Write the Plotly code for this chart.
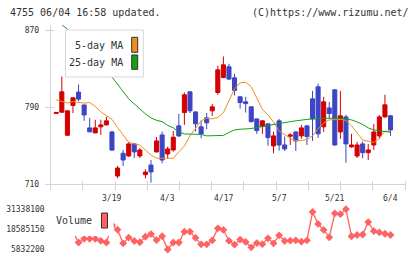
import numpy as np
import plotly.graph_objects as go

W, H = 420, 259

# ---------------- data ----------------
idx = list(range(61))
date_ticks = [10, 20, 30, 40, 50, 60]
date_text = ["3/19", "4/3", "4/17", "5/7", "5/21", "6/4"]

opens = [783.5, 784.8, 760.9, 791.7, 805.6, 792.3, 768.5, 763.3, 769.6, 771.6,
         764.3, 718.6, 742.2, 739.4, 751.9, 739.4, 720.0, 730.0, 743.6, 761.2,
         741.5, 745.6, 770.6, 784.4, 805.9, 785.1, 769.6, 778.9, 786.2, 805.2,
         820.8, 831.9, 820.4, 800.7, 795.5, 790.3, 777.8, 769.8, 772.7, 749.8,
         775.8, 750.8, 759.9, 764.3, 760.2, 770.6, 798.6, 811.1, 769.6, 789.2,
         808.0, 764.3, 779.9, 748.8, 739.4, 751.9, 742.8, 750.8, 760.2, 779.9,
         781.0]
highs = [784.5, 821.8, 786.5, 800.0, 813.5, 792.5, 778.9, 776.9, 776.9, 779.9,
         765.4, 729.0, 745.6, 754.0, 752.9, 747.7, 725.6, 735.2, 759.1, 764.7,
         749.0, 765.4, 783.0, 805.2, 806.5, 785.5, 776.1, 784.0, 793.4, 832.9,
         842.6, 835.0, 824.6, 801.5, 800.7, 790.8, 778.2, 776.3, 773.2, 764.7,
         777.8, 759.5, 763.0, 764.8, 771.6, 771.0, 806.9, 814.2, 800.7, 795.5,
         808.5, 806.9, 782.0, 762.3, 753.9, 754.3, 751.9, 772.7, 782.0, 802.8,
         782.0]
lows = [783.5, 784.0, 760.0, 783.8, 796.2, 775.8, 764.0, 763.0, 761.2, 771.0,
        744.5, 716.2, 729.0, 738.4, 737.3, 737.3, 716.2, 711.7, 743.0, 731.8,
        737.0, 743.9, 759.0, 771.6, 783.8, 764.7, 757.8, 767.1, 781.0, 802.8,
        820.0, 818.0, 802.1, 788.5, 784.4, 774.0, 762.3, 762.3, 750.1, 742.2,
        744.9, 744.6, 750.8, 744.6, 757.1, 750.8, 755.0, 758.1, 764.3, 777.8,
        749.8, 757.1, 732.4, 748.0, 737.3, 737.0, 735.2, 745.6, 757.1, 779.0,
        760.2]
closes = [784.5, 805.9, 786.2, 799.7, 798.3, 781.9, 764.4, 768.5, 771.6, 775.8,
          745.5, 726.9, 735.2, 751.9, 743.6, 745.6, 722.7, 722.8, 755.0, 735.2,
          746.7, 758.8, 760.2, 802.8, 786.2, 772.7, 762.3, 773.7, 790.3, 828.7,
          833.9, 819.1, 807.3, 794.8, 793.7, 775.0, 765.7, 775.8, 758.4, 760.2,
          750.8, 746.7, 761.2, 755.0, 768.5, 759.5, 777.8, 762.3, 795.5, 783.4,
          750.8, 781.0, 751.9, 750.8, 750.8, 742.8, 745.6, 764.3, 779.9, 792.4,
          766.4]

ma5 = [797.6, 795.5, 794.2, 795.8, 795.0, 794.2, 794.8, 790.8, 785.1, 781.0,
       777.3, 769.0, 761.2, 753.4, 751.9, 750.8, 745.6, 740.4, 737.0, 737.0,
       737.0, 737.0, 743.6, 749.8, 760.2, 768.5, 775.8, 778.4, 777.8, 779.4,
       784.1, 796.5, 809.0, 815.2, 815.8, 811.1, 800.2, 787.7, 782.0, 774.7,
       765.3, 761.2, 757.8, 755.3, 755.3, 756.5, 760.2, 767.5, 773.7, 776.8,
       777.1, 777.3, 776.3, 770.6, 763.3, 756.0, 754.5, 753.4, 757.6, 765.3,
       764.7]
ma25 = [882.0, 875.5, 871.0, 865.0, 858.0, 851.0, 845.0, 838.0, 832.0, 826.0,
        821.0, 813.8, 805.9, 798.6, 793.4, 788.2, 783.0, 778.9, 776.3, 775.0,
        771.1, 768.5, 764.3, 762.2, 762.2, 762.2, 761.7, 760.2, 760.2, 760.2,
        760.7, 763.8, 766.4, 767.1, 767.5, 767.8, 769.0, 770.1, 771.1, 771.8,
        772.7, 773.7, 775.0, 775.8, 776.8, 777.3, 777.8, 778.4, 778.6, 778.6,
        778.6, 778.4, 777.8, 776.8, 774.7, 772.1, 768.5, 766.4, 765.4, 764.9,
        764.0]

volume = [18000000, 19000000, 18500000, 17000000, 10250000, 12600000, 12600000,
          12600000, 11300000, 10250000, 21300000, 18350000, 9750000, 13400000,
          11200000, 10400000, 13900000, 15600000, 11800000, 14200000, 5832200,
          10250000, 10250000, 17100000, 17100000, 13200000, 9100000, 9100000,
          11600000, 19200000, 18200000, 11300000, 8900000, 12100000, 10600000,
          7200000, 9900000, 9200000, 12900000, 9750000, 14800000, 11200000,
          11400000, 11600000, 10800000, 11600000, 29600000, 22000000, 18200000,
          13500000, 28700000, 28200000, 31338100, 14200000, 15000000, 15300000,
          23200000, 17500000, 16600000, 15800000, 15000000]

price_ticks = [710, 790, 870]
vol_ticks = [5832200, 18585150, 31338100]

# ---------------- styling ----------------
MONO = "DejaVu Sans Mono"
TXT = "#333333"
AX = "#d4d4d4"
RED = "#d40000"
BLUE = "#3c46c4"
ORANGE = "#f0901a"
GREEN = "#14a014"
VOLC = "#ff6262"

XR = [-1.0, 62.6]
XDOM = [50.7 / W, 405 / W]
YR = [710, 875.2]


def fx(px):
    return px / W


def fy(py):
    return 1 - py / H


YDOM = [fy(184.3), fy(25)]

fig = go.Figure()

fig.add_trace(go.Candlestick(
    x=idx, open=opens, high=highs, low=lows, close=closes,
    increasing=dict(line=dict(color=RED, width=1), fillcolor=RED),
    decreasing=dict(line=dict(color=BLUE, width=1), fillcolor=BLUE),
    whiskerwidth=0, showlegend=False, xaxis="x", yaxis="y"))

# 25-day MA drawn on the overlay axes that carry the crossing tick marks
fig.add_trace(go.Scatter(x=idx, y=ma25, mode="lines",
                         line=dict(color=GREEN, width=1), showlegend=False,
                         xaxis="x3", yaxis="y3"))
fig.add_trace(go.Scatter(x=idx, y=ma5, mode="lines",
                         line=dict(color=ORANGE, width=1), showlegend=False,
                         xaxis="x", yaxis="y"))

fig.add_trace(go.Scatter(x=idx, y=volume, mode="lines+markers",
                         line=dict(color=VOLC, width=1.3),
                         marker=dict(symbol="diamond", size=6, color=VOLC),
                         showlegend=False, xaxis="x2", yaxis="y2"))

tick_grid = list(np.linspace(XR[0], XR[1], 12))

layout = dict(
    width=W, height=H,
    margin=dict(l=0, r=0, t=0, b=0, pad=0, autoexpand=False),
    paper_bgcolor="white", plot_bgcolor="white",
    showlegend=False,
    boxgap=0.27, boxgroupgap=0,
    font=dict(family=MONO, size=8, color=TXT),
    xaxis=dict(domain=XDOM, range=XR, anchor="y", showgrid=False, zeroline=False,
               showline=True, linecolor=AX, linewidth=1, ticks="",
               showticklabels=False, automargin=False,
               rangeslider=dict(visible=False)),
    xaxis3=dict(domain=XDOM, range=XR, anchor="free", position=fy(180),
                overlaying="x", showgrid=False, zeroline=False, showline=False,
                ticks="outside", ticklen=9, tickcolor=AX, tickwidth=1,
                tickvals=tick_grid, showticklabels=False, automargin=False),
    xaxis2=dict(domain=XDOM, range=XR, anchor="y2", visible=False,
                automargin=False),
    yaxis=dict(domain=YDOM, range=YR, anchor="x",
               showgrid=False, zeroline=False, showline=True, linecolor=AX,
               linewidth=1, ticks="", tickvals=price_ticks,
               tickfont=dict(family=MONO, size=8, color=TXT),
               ticklabelstandoff=9, automargin=False),
    yaxis3=dict(domain=YDOM, range=YR, anchor="free", position=fx(54),
                overlaying="y", showgrid=False, zeroline=False, showline=False,
                ticks="outside", ticklen=9, tickcolor=AX, tickwidth=1,
                tickvals=price_ticks, showticklabels=False, automargin=False),
    yaxis2=dict(domain=[0, fy(199)], range=[-190000, 37780000], anchor="x2",
                showgrid=False, zeroline=False, showline=False, ticks="",
                tickvals=vol_ticks, ticktext=[str(v) for v in vol_ticks],
                tickfont=dict(family=MONO, size=8, color=TXT),
                ticklabelstandoff=5, automargin=False),
)
fig.update_layout(**layout)

shapes = [
    # main legend box
    dict(type="rect", xref="paper", yref="paper", x0=fx(65.5), x1=fx(143.3),
         y0=fy(77), y1=fy(30), fillcolor="white",
         line=dict(color="#d8d8d8", width=1), layer="above"),
    dict(type="rect", xref="paper", yref="paper", x0=fx(131.7), x1=fx(137.7),
         y0=fy(52.3), y1=fy(37.3), fillcolor=ORANGE,
         line=dict(color="#333333", width=1), layer="above"),
    dict(type="rect", xref="paper", yref="paper", x0=fx(131.7), x1=fx(137.7),
         y0=fy(69.3), y1=fy(55), fillcolor=GREEN,
         line=dict(color="#333333", width=1), layer="above"),
    # volume legend box (borderless)
    dict(type="rect", xref="paper", yref="paper", x0=fx(50), x1=fx(113.5),
         y0=fy(236), y1=fy(204), fillcolor="white",
         line=dict(width=0), layer="above"),
    dict(type="rect", xref="paper", yref="paper", x0=fx(101.5), x1=fx(107.5),
         y0=fy(228), y1=fy(213), fillcolor=VOLC,
         line=dict(color="#333333", width=1), layer="above"),
]
fig.update_layout(shapes=shapes)

ann = [
    dict(text="4755 06/04 16:58 updated.", x=fx(8), y=fy(12.5), xanchor="left",
         yanchor="middle", xref="paper", size=10),
    dict(text="(C)https://www.rizumu.net/", x=fx(410.5), y=fy(12.5),
         xanchor="right", yanchor="middle", xref="paper", size=10),
    dict(text="5-day MA", x=fx(124.8), y=fy(45.5), xanchor="right",
         yanchor="middle", xref="paper", size=10),
    dict(text="25-day MA", x=fx(124.8), y=fy(63), xanchor="right",
         yanchor="middle", xref="paper", size=10),
    dict(text="Volume", x=fx(94), y=fy(220.5), xanchor="right",
         yanchor="middle", xref="paper", size=10),
]
# date labels placed at their candle positions on the x axis
for dv, dt in zip(date_ticks, date_text):
    ann.append(dict(text=dt, x=dv, y=fy(198), xanchor="center",
                    yanchor="middle", xref="x", size=8))

final_ann = []
for a in ann:
    sz = a.pop("size")
    a.update(yref="paper", showarrow=False,
             font=dict(family=MONO, size=sz, color=TXT))
    final_ann.append(a)
fig.update_layout(annotations=final_ann)

fig.write_html("out.html")
